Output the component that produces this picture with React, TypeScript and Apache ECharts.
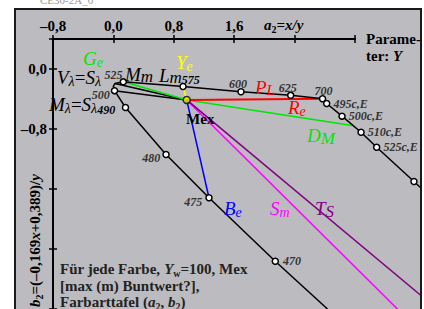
import React, { useEffect, useRef } from "react";
import * as echarts from "echarts";

// ---------- data ----------
const xTickLabels = [-0.8, 0, 0.8, 1.6];
const yTickLabels = [0, -0.8];

// spectral locus  V_lambda = S_lambda  (a2, b2)
const locusNames = ["700", "625", "600", "575", "525", "", "", "500", "490", "480", "475", "470", ""];
const locusA = [2.77, 2.348, 1.69, 0.922, 0.131, 0.021, -0.001, 0.015, 0.16, 0.697, 1.266, 2.144, 2.836];
const locusB = [-0.397, -0.351, -0.304, -0.233, -0.171, -0.193, -0.231, -0.289, -0.513, -1.14, -1.717, -2.563, -3.2];
const locusMarked = [true, true, true, true, true, false, false, true, true, true, true, true, false];

// complementary (c,E) line
const compNames = ["", "495c,E", "500c,E", "510c,E", "525c,E", "550c,E", ""];
const compA = [2.77, 2.825, 3.028, 3.28, 3.487, 3.981, 4.074];
const compB = [-0.397, -0.46, -0.629, -0.843, -1.043, -1.5, -1.587];

// white point Mex
const mex = [0.971, -0.413];

// line ends from Mex
const geEnd = [0.131, -0.171];
const dmEnd = [3.16, -0.753];
const yeEnd = [0.922, -0.233];
const reEnd = [2.77, -0.397];
const beEnd = [1.266, -1.717];
const smEnd = [3.763, -3.2];
const tsEnd = [4.074, -3.02];
const blackEnd1 = [0.021, -0.193];
const blackEnd2 = [0.015, -0.289];

// ---------- styling ----------
const FAM = '"Liberation Serif", "Times New Roman", serif';
const GREEN = "#00e600";
const RED = "#ff0000";
const YELLOW = "#ffff00";
const BLUE = "#0000ff";
const MAGENTA = "#ff00ff";
const PURPLE = "#800080";

// label placement for locus points: [position, distance, dx, dy]
const locusLabelPos: any[] = [
  ["top", 0, 1, 2],
  ["top", 0, -3, 2],
  ["top", 0, -3, 2],
  null,
  ["left", 0, 3, -7],
  null,
  null,
  ["left", 1, 0, 4],
  null,
  ["left", 2, 0, 3],
  ["left", 3, 0, 4],
  ["right", 4, 0, 0],
  null,
];

let ctx: CanvasRenderingContext2D | null = null;
function fontStr(size: number, bold?: boolean, italic?: boolean) {
  return `${italic ? "italic " : ""}${bold ? "bold " : ""}${size}px ${FAM}`;
}
function measure(t: string, f: string) {
  if (!ctx) ctx = document.createElement("canvas").getContext("2d");
  ctx!.font = f;
  return ctx!.measureText(t).width;
}
type Part = { t: string; s: number; dy?: number; b?: boolean; i?: boolean };
function seq(x: number, y: number, parts: Part[], fill: string): any[] {
  const out: any[] = [];
  let cx = x;
  for (const p of parts) {
    const f = fontStr(p.s, p.b, p.i);
    out.push({
      type: "text",
      x: cx,
      y: y + (p.dy || 0),
      silent: true,
      z: 100,
      style: {
        text: p.t,
        font: f,
        fill,
        textAlign: "left",
        textVerticalAlign: "middle",
        verticalAlign: "middle",
      },
    });
    cx += measure(p.t, f);
  }
  return out;
}

function fmt(v: number) {
  return (v < -1e-9 ? "–" : "") + Math.abs(v).toFixed(1).replace(".", ",");
}

function buildOption() {
  const axisFont = { fontFamily: FAM, fontWeight: "bold" as const, fontSize: 15, color: "#000" };
  const tickStyle = { color: "#000", width: 1.5 };
  const seg = (data: number[][], color: string, width: number, z = 3) => ({
    type: "line",
    xAxisIndex: 1,
    yAxisIndex: 1,
    data,
    symbol: "none",
    lineStyle: { color, width },
    z,
    silent: true,
    animation: false,
  });
  const pointLabelStyle = {
    fontFamily: FAM,
    fontStyle: "italic" as const,
    fontWeight: "bold" as const,
    fontSize: 12,
    color: "#333",
  };

  const locusData = locusA.map((a, k) => {
    const lp = locusLabelPos[k];
    return {
      value: [a, locusB[k]],
      symbol: locusMarked[k] ? "circle" : "none",
      label: lp
        ? {
            show: true,
            formatter: locusNames[k],
            position: lp[0],
            distance: lp[1],
            offset: [lp[2], lp[3]],
            ...pointLabelStyle,
          }
        : { show: false },
    };
  });
  const compData = compA.map((a, k) => ({
    value: [a, compB[k]],
    symbol: compNames[k] ? "circle" : "none",
    label: compNames[k]
      ? { show: true, formatter: compNames[k], position: "right", distance: 3, ...pointLabelStyle }
      : { show: false },
  }));

  const graphic: any[] = [
    // faint header text above frame
    ...seq(40, 0, [{ t: "CE30-2A_0", s: 11 }], "#9a9a9a"),
    // x axis name
    ...seq(264, 25, [
      { t: "a", s: 15, b: true, i: true },
      { t: "2", s: 10, b: true, dy: 4 },
      { t: "=x/y", s: 15, b: true, i: true },
    ], "#000"),
    ...seq(366, 39, [{ t: "Parame-", s: 15, b: true }], "#000"),
    ...seq(366, 56, [{ t: "ter: ", s: 15, b: true }, { t: "Y", s: 15, b: true, i: true }], "#000"),
    // y axis name (rotated)
    {
      type: "group",
      x: 35,
      y: 307,
      rotation: Math.PI / 2,
      children: seq(0, 0, [
        { t: "b", s: 15, b: true, i: true },
        { t: "2", s: 10, b: true, dy: 4 },
        { t: "=(–0,169", s: 15, b: true },
        { t: "x", s: 15, b: true, i: true },
        { t: "+0,389)/", s: 15, b: true },
        { t: "y", s: 15, b: true, i: true },
      ], "#000"),
    },
    // curve labels
    ...seq(83, 58.5, [{ t: "G", s: 19, i: true }, { t: "e", s: 14, i: true, dy: 4 }], GREEN),
    ...seq(176, 62, [{ t: "Y", s: 19, i: true }, { t: "e", s: 14, i: true, dy: 4 }], YELLOW),
    ...seq(57, 77, [
      { t: "V", s: 19, i: true },
      { t: "λ", s: 14, i: true, dy: 4 },
      { t: "=", s: 19 },
      { t: "S", s: 19, i: true },
      { t: "λ", s: 14, i: true, dy: 4 },
    ], "#000"),
    ...seq(125, 74, [{ t: "M", s: 19, i: true }, { t: "m", s: 17, i: true, dy: 2 }], "#000"),
    ...seq(159, 75, [
      { t: "L", s: 19, i: true },
      { t: "m", s: 17, i: true, dy: 2 },
      { t: "575", s: 12, i: true, b: true, dy: 5 },
    ], "#000"),
    ...seq(49, 104, [
      { t: "M", s: 19, i: true },
      { t: "λ", s: 14, i: true, dy: 4 },
      { t: "=", s: 19 },
      { t: "S", s: 19, i: true },
      { t: "λ", s: 14, i: true, dy: 4 },
      { t: "490", s: 12, i: true, b: true, dy: 6 },
    ], "#000"),
    ...seq(186, 119, [{ t: "Mex", s: 15, b: true }], "#000"),
    ...seq(255, 87, [{ t: "P", s: 19, i: true }, { t: "L", s: 15, i: true, dy: 3 }], RED),
    ...seq(288, 107, [{ t: "R", s: 19, i: true }, { t: "e", s: 14, i: true, dy: 4 }], RED),
    ...seq(307, 135, [{ t: "D", s: 19, i: true }, { t: "M", s: 17, i: true, dy: 3 }], GREEN),
    ...seq(224, 208.5, [{ t: "B", s: 19, i: true }, { t: "e", s: 14, i: true, dy: 4 }], BLUE),
    ...seq(270, 208.5, [{ t: "S", s: 19, i: true }, { t: "m", s: 14, i: true, dy: 4 }], MAGENTA),
    ...seq(315, 208.5, [{ t: "T", s: 19, i: true }, { t: "S", s: 17, i: true, dy: 3 }], PURPLE),
    // bottom note
    ...seq(60, 269, [
      { t: "Für jede Farbe, ", s: 15, b: true },
      { t: "Y", s: 15, b: true, i: true },
      { t: "w", s: 10, b: true, dy: 4 },
      { t: "=100, Mex", s: 15, b: true },
    ], "#222"),
    ...seq(60, 286, [{ t: "[max (m) Buntwert?],", s: 15, b: true }], "#222"),
    ...seq(60, 302, [
      { t: "Farbarttafel (", s: 15, b: true },
      { t: "a", s: 15, b: true, i: true },
      { t: "2", s: 10, b: true, dy: 4 },
      { t: ", ", s: 15, b: true },
      { t: "b", s: 15, b: true, i: true },
      { t: "2", s: 10, b: true, dy: 4 },
      { t: ")", s: 15, b: true },
    ], "#222"),
  ];

  return {
    animation: false,
    backgroundColor: "transparent",
    grid: [
      { left: 53, top: 39, width: 302, height: 270 },
      { left: 53, top: 39, width: 367, height: 270 },
    ],
    xAxis: [
      {
        gridIndex: 0,
        type: "value",
        position: "top",
        min: -0.8,
        max: 3.2,
        interval: 0.8,
        axisLine: { show: true, onZero: false, lineStyle: { color: "#000", width: 2 } },
        axisTick: { show: true, inside: false, length: 4, lineStyle: tickStyle },
        axisLabel: {
          show: true,
          margin: 6,
          ...axisFont,
          formatter: (v: number) => (xTickLabels.some((t) => Math.abs(t - v) < 1e-6) ? fmt(v) : ""),
        },
        splitLine: { show: false },
      },
      { gridIndex: 1, type: "value", min: -0.8, max: -0.8 + 367 / 75.5, show: false },
      {
        gridIndex: 0,
        type: "value",
        position: "top",
        min: -0.8,
        max: 3.2,
        interval: 0.8,
        axisLine: { show: false, onZero: false },
        axisTick: { show: true, inside: true, length: 4, lineStyle: tickStyle },
        axisLabel: { show: false },
        splitLine: { show: false },
      },
    ],
    yAxis: [
      {
        gridIndex: 0,
        type: "value",
        position: "left",
        min: -3.2,
        max: 0.4,
        interval: 0.8,
        axisLine: { show: true, onZero: false, lineStyle: { color: "#000", width: 2 } },
        axisTick: { show: true, inside: false, length: 4, lineStyle: tickStyle },
        axisLabel: {
          show: true,
          margin: 6,
          ...axisFont,
          formatter: (v: number) => (yTickLabels.some((t) => Math.abs(t - v) < 1e-6) ? fmt(v) : ""),
        },
        splitLine: { show: false },
      },
      { gridIndex: 1, type: "value", min: -3.2, max: 0.4, show: false },
      {
        gridIndex: 0,
        type: "value",
        position: "left",
        min: -3.2,
        max: 0.4,
        interval: 0.8,
        axisLine: { show: false, onZero: false },
        axisTick: { show: true, inside: true, length: 4, lineStyle: tickStyle },
        axisLabel: { show: false },
        splitLine: { show: false },
      },
    ],
    series: [
      seg([blackEnd1, mex], "#000", 1.5),
      seg([blackEnd2, mex], "#000", 1.5),
      seg([geEnd, mex], GREEN, 1.6, 4),
      seg([mex, dmEnd], GREEN, 1.6, 4),
      seg([mex, reEnd], RED, 2, 4),
      seg([yeEnd, mex], YELLOW, 1.6, 4),
      seg([mex, beEnd], BLUE, 1.5, 4),
      seg([mex, smEnd], MAGENTA, 1.6, 4),
      seg([mex, tsEnd], PURPLE, 1.6, 4),
      {
        type: "line",
        xAxisIndex: 1,
        yAxisIndex: 1,
        data: compData,
        symbolSize: 6,
        showAllSymbol: true,
        lineStyle: { color: "#000", width: 1.5 },
        itemStyle: { color: "#fff", borderColor: "#000", borderWidth: 1.5 },
        z: 5,
        silent: true,
      },
      {
        type: "line",
        xAxisIndex: 1,
        yAxisIndex: 1,
        data: locusData,
        symbolSize: 6,
        showAllSymbol: true,
        lineStyle: { color: "#000", width: 1.5 },
        itemStyle: { color: "#fff", borderColor: "#000", borderWidth: 1.5 },
        z: 6,
        silent: true,
      },
      {
        type: "scatter",
        xAxisIndex: 1,
        yAxisIndex: 1,
        data: [mex],
        symbolSize: 7,
        itemStyle: { color: "#e6e600", borderColor: "#000", borderWidth: 1.5 },
        z: 7,
        silent: true,
      },
    ],
    graphic,
  };
}

export default function App() {
  const ref = useRef<HTMLDivElement>(null);
  useEffect(() => {
    if (!ref.current) return;
    const chart = echarts.init(ref.current, null, { renderer: "svg", width: 424, height: 309 });
    chart.setOption(buildOption() as any);
    return () => chart.dispose();
  }, []);
  return (
    <div style={{ position: "fixed", left: 0, top: 0, width: 424, height: 309, background: "#fff", overflow: "hidden" }}>
      <div
        style={{
          position: "absolute",
          left: 14,
          top: 8,
          width: 408,
          height: 310,
          background: "#bcbcc0",
          borderLeft: "2px solid #1a1a1a",
          borderTop: "2px solid #1a1a1a",
          borderRight: "2px solid #1a1a1a",
          boxSizing: "border-box",
        }}
      />
      <div ref={ref} style={{ position: "absolute", left: 0, top: 0, width: 424, height: 309 }} />
      <div
        style={{
          position: "absolute",
          left: 420,
          top: 8,
          width: 4,
          height: 301,
          background: "#fff",
          borderLeft: "2px solid #1a1a1a",
          boxSizing: "border-box",
          pointerEvents: "none",
        }}
      />
    </div>
  );
}
